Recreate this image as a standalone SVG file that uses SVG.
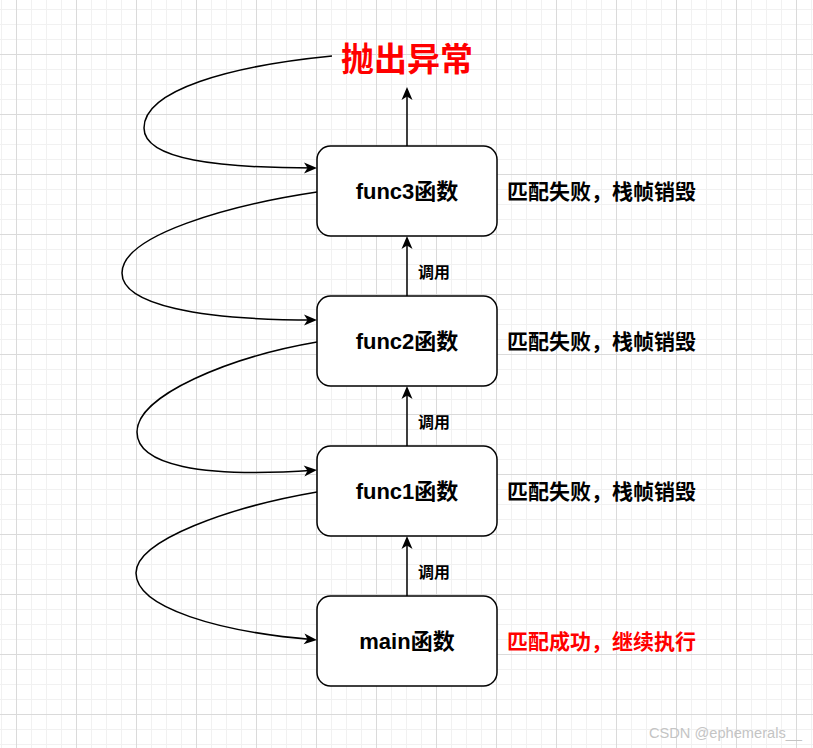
<svg xmlns="http://www.w3.org/2000/svg" width="813" height="748" viewBox="0 0 813 748">
<defs>
<pattern id="grid" x="16" y="54" width="60" height="60" patternUnits="userSpaceOnUse">
<rect x="15" y="0" width="1" height="60" fill="#f1f1f1"/>
<rect x="30" y="0" width="1" height="60" fill="#f1f1f1"/>
<rect x="45" y="0" width="1" height="60" fill="#f1f1f1"/>
<rect x="0" y="15" width="60" height="1" fill="#f1f1f1"/>
<rect x="0" y="30" width="60" height="1" fill="#f1f1f1"/>
<rect x="0" y="45" width="60" height="1" fill="#f1f1f1"/>
<rect x="0" y="0" width="1" height="60" fill="#dadada"/>
<rect x="0" y="0" width="60" height="1" fill="#dadada"/>
</pattern>
<marker id="arr" viewBox="-16 -7 17 14" markerWidth="17" markerHeight="14" refX="-3" refY="0" markerUnits="userSpaceOnUse" orient="auto">
<path d="M0,0 L-13,-5.5 L-9.5,0 L-13,5.5 Z" fill="#000"/>
</marker>
<style>
.box{fill:#fff;stroke:#000;stroke-width:1.5}
.t{font-family:"Liberation Sans","Noto Sans CJK SC",sans-serif;font-weight:bold}
.nt{font-size:22px;fill:#000;text-anchor:middle}
.side{font-size:21px;fill:#000}
.red{fill:#ff0000}
.lbl{font-size:16px;fill:#000}
.edge{fill:none;stroke:#000;stroke-width:1.5;marker-end:url(#arr)}
</style>
</defs>
<rect width="813" height="748" fill="#fff"/>
<rect width="813" height="748" fill="url(#grid)"/>

<g id="connectors">
<path class="edge" d="M407,146 L407,90"/>
<path class="edge" d="M407,296 L407,239"/>
<path class="edge" d="M407,446 L407,389"/>
<path class="edge" d="M407,596 L407,539"/>
<path class="edge" d="M332,56 C230,66 144,90 144,128 C144,160 220,168 314,168"/>
<path class="edge" d="M317,192 C230,205 122,235 122,273 C122,305 200,320 314,320"/>
<path class="edge" d="M317,342 C230,357 137,395 137,432 C137,465 200,478 314,470.3"/>
<path class="edge" d="M317,492 C230,507 136,540 136,573 C136,608 220,632 314,639.7"/>
<text class="t lbl" x="418" y="278">调用</text>
<text class="t lbl" x="418" y="428">调用</text>
<text class="t lbl" x="418" y="578">调用</text>
</g>

<g id="node-throw">
<text class="t red" x="407" y="70.5" font-size="33" text-anchor="middle">抛出异常</text>
</g>

<g id="node-func3">
<rect class="box" x="317" y="146" width="180" height="90" rx="13.5"/>
<text class="t nt" x="407" y="199">func3函数</text>
</g>
<g id="node-func2">
<rect class="box" x="317" y="296" width="180" height="90" rx="13.5"/>
<text class="t nt" x="407" y="349">func2函数</text>
</g>
<g id="node-func1">
<rect class="box" x="317" y="446" width="180" height="90" rx="13.5"/>
<text class="t nt" x="407" y="499">func1函数</text>
</g>
<g id="node-main">
<rect class="box" x="317" y="596" width="180" height="90" rx="13.5"/>
<text class="t nt" x="407" y="649">main函数</text>
</g>

<g id="side-labels">
<text class="t side" x="507" y="199">匹配失败，栈帧销毁</text>
<text class="t side" x="507" y="349">匹配失败，栈帧销毁</text>
<text class="t side" x="507" y="499">匹配失败，栈帧销毁</text>
<text class="t side red" x="507" y="649">匹配成功，继续执行</text>
</g>

<text x="649" y="738" font-family="Liberation Sans, sans-serif" font-size="14" fill="#c4c4c4" textLength="153" lengthAdjust="spacingAndGlyphs">CSDN @ephemerals__</text>
</svg>
